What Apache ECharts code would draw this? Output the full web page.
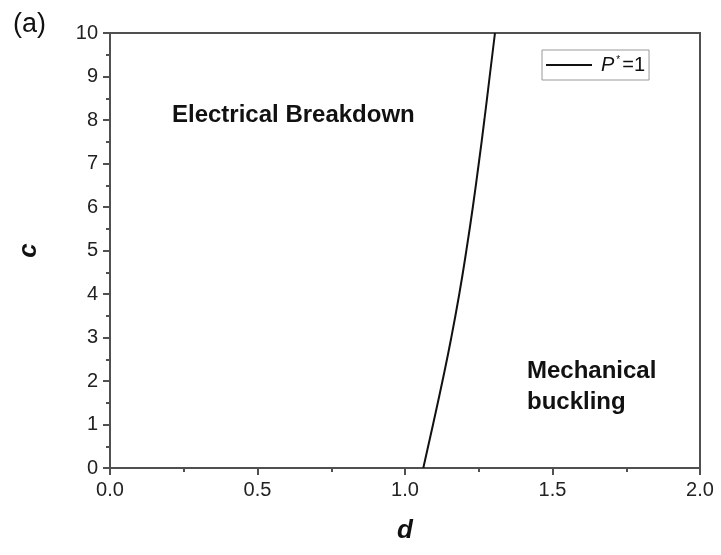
<!DOCTYPE html>
<html>
<head>
<meta charset="utf-8">
<script src="https://cdn.jsdelivr.net/npm/echarts@6/dist/echarts.min.js"></script>
<style>
html,body{margin:0;padding:0;background:#fff;}
#chart{width:721px;height:555px;}
</style>
</head>
<body>
<div id="chart"></div>
<script>
// Boundary curve P*=1 : c (vertical) vs d (horizontal)
var cValues = [0, 1, 2, 3, 4, 5, 6, 7, 8, 9, 10];
var dValues = [1.062, 1.095, 1.127, 1.157, 1.184, 1.208, 1.230, 1.250, 1.269, 1.287, 1.305];
var xTicks = [0.0, 0.5, 1.0, 1.5, 2.0];
var yTicks = [0, 1, 2, 3, 4, 5, 6, 7, 8, 9, 10];
var seriesName = 'P*=1';
var regionLabels = ['Electrical Breakdown', 'Mechanical\nbuckling'];
var panelLabel = '(a)';

var curve = dValues.map(function (d, i) { return [d, cValues[i]]; });
var axisColor = '#505050';
var font = 'Liberation Sans, Arial, sans-serif';

var chart = echarts.init(document.getElementById('chart'));
chart.setOption({
  animation: false,
  backgroundColor: '#fff',
  grid: { left: 110, right: 21, top: 33, bottom: 87, show: true, borderColor: axisColor, borderWidth: 2, containLabel: false },
  xAxis: {
    type: 'value', min: xTicks[0], max: xTicks[xTicks.length - 1], interval: 0.5,
    name: 'd', nameLocation: 'middle', nameGap: 50,
    nameTextStyle: { fontFamily: font, fontSize: 26, fontWeight: 'bold', fontStyle: 'italic', color: '#111' },
    axisLine: { show: true, lineStyle: { color: axisColor, width: 2 } },
    axisTick: { show: true, length: 7, lineStyle: { color: axisColor, width: 2 } },
    minorTick: { show: true, splitNumber: 2, length: 4, lineStyle: { color: axisColor, width: 2 } },
    splitLine: { show: false },
    axisLabel: { fontFamily: font, fontSize: 20, color: '#222', margin: 12, formatter: function (v) { return v.toFixed(1); } }
  },
  yAxis: {
    type: 'value', min: yTicks[0], max: yTicks[yTicks.length - 1], interval: 1,
    name: 'c', nameLocation: 'middle', nameGap: 68,
    nameTextStyle: { fontFamily: font, fontSize: 26, fontWeight: 'bold', fontStyle: 'italic', color: '#111' },
    axisLine: { show: true, lineStyle: { color: axisColor, width: 2 } },
    axisTick: { show: true, length: 7, lineStyle: { color: axisColor, width: 2 } },
    minorTick: { show: true, splitNumber: 2, length: 4, lineStyle: { color: axisColor, width: 2 } },
    splitLine: { show: false },
    axisLabel: { fontFamily: font, fontSize: 20, color: '#222', margin: 12 }
  },
  legend: {
    left: 542, top: 50,
    orient: 'vertical',
    padding: [5, 4, 5, 4],
    itemWidth: 46, itemHeight: 2,
    borderColor: '#999', borderWidth: 1,
    data: [{ name: seriesName, icon: 'rect' }],
    formatter: function () { return '{i|P}{s|*}{n|=1}'; },
    textStyle: {
      fontFamily: font, fontSize: 20, color: '#111',
      rich: {
        i: { fontFamily: font, fontSize: 20, fontStyle: 'italic', color: '#111', padding: [0, 0, 0, 4] },
        s: { fontFamily: font, fontSize: 10, color: '#111', verticalAlign: 'top', padding: [0, 2, 8, 2] },
        n: { fontFamily: font, fontSize: 20, color: '#111' }
      }
    }
  },
  graphic: [
    { type: 'text', left: 13, top: 11, style: { text: panelLabel, font: '27px ' + font, fill: '#111' } },
    { type: 'text', left: 172, top: 103, style: { text: regionLabels[0], font: 'bold 24px ' + font, fill: '#111' } },
    { type: 'text', left: 527, top: 356, style: { text: regionLabels[1], font: 'bold 24px ' + font, fill: '#111', lineHeight: 31 } }
  ],
  series: [{
    name: seriesName, type: 'line', data: curve, smooth: true, symbol: 'none',
    lineStyle: { color: '#111', width: 2 }, itemStyle: { color: '#111' }
  }]
});
</script>
</body>
</html>
